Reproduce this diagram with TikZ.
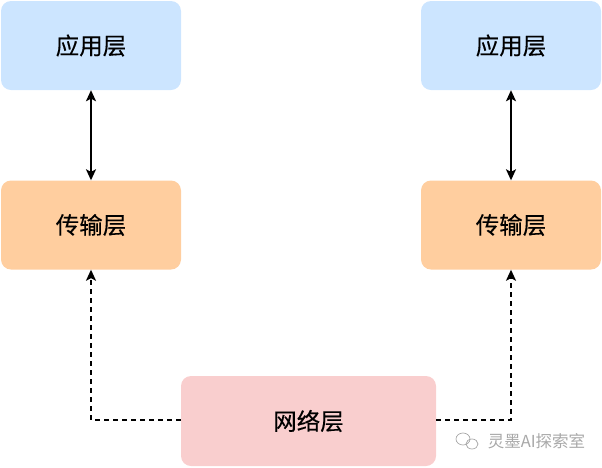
\documentclass[tikz,border=0pt]{standalone}
\usepackage{fontspec}
\newfontfamily\cjk[FakeBold=0.3]{Noto Sans CJK SC}
\newfontfamily\cjkwm{Noto Sans CJK SC}
\usetikzlibrary{arrows.meta}
\definecolor{blueL}{HTML}{CCE5FF}
\definecolor{orangeL}{HTML}{FFCE9F}
\definecolor{pinkL}{HTML}{F9CECE}
\definecolor{wm}{HTML}{A8A8A8}
\tikzset{
  layer/.style={rounded corners=10pt, minimum width=180pt, minimum height=89pt, inner sep=0pt, font=\cjk\fontsize{23.5}{27}\selectfont},
  dbl/.style={{Stealth[length=11pt,width=10pt,inset=2.5pt]}-{Stealth[length=11pt,width=10pt,inset=2.5pt]}, line width=1.5pt},
  dsh/.style={-{Stealth[length=11pt,width=10pt,inset=2.5pt]}, line width=1.5pt, dash pattern=on 5pt off 4pt},
}
\begin{document}
\begin{tikzpicture}[x=1pt,y=-1pt]
\useasboundingbox (0,0) rectangle (602,467);
\node[layer, fill=blueL] (app1) at (91,45.5) {应用层};
\node[layer, fill=orangeL] (tr1) at (91,225) {传输层};
\node[layer, fill=blueL] (app2) at (511,45.5) {应用层};
\node[layer, fill=orangeL] (tr2) at (511,225) {传输层};
\node[layer, fill=pinkL, minimum width=255pt, minimum height=90pt] (net) at (308.5,421) {网络层};
\draw[dbl] (app1) -- (tr1);
\draw[dbl] (app2) -- (tr2);
\coordinate (c1) at (91,420);
\coordinate (c2) at (511,420);
\draw[dsh] (net.west |- c1) -- (c1) -- (tr1.south);
\draw[dsh] (net.east |- c2) -- (c2) -- (tr2.south);
\node[font=\cjkwm\fontsize{16.5}{19}\selectfont, text=wm, inner sep=0pt] (wmtext) at (536.5,441) {灵墨AI探索室};
\draw[wm, line width=0.7pt] (463,439) ellipse (7pt and 6pt);
\draw[wm, line width=0.7pt] (472,444) ellipse (6pt and 5pt);
\end{tikzpicture}
\end{document}
